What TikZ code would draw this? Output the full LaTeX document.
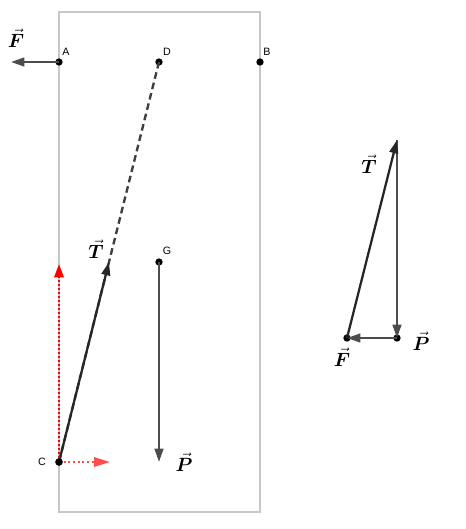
\documentclass[tikz,border=0pt]{standalone}
\usepackage{amsmath}
\usepackage{bm}
\usepackage{fontspec}
\newfontfamily\lab{Liberation Sans}
\usetikzlibrary{arrows.meta}
\tikzset{
  vec/.style={draw=black!70, line width=1.7pt, -{Stealth[length=10pt,width=6.5pt,inset=0pt]}},
  pt/.style={circle, fill=black, inner sep=0pt, minimum size=5.5pt},
  ptlab/.style={font=\lab\fontsize{8}{9}\selectfont, inner sep=0pt},
  vlab/.style={inner sep=0pt, font=\Large},
  frame/.style={draw=black!22, line width=1.8pt},
}
\begin{document}
\begin{tikzpicture}[x=0.75pt,y=-0.75pt]
\useasboundingbox (0,0) rectangle (466,529);
\draw[frame] (59,12) rectangle (260,512);
\node[pt] (A) at (59,62) {};
\node[pt] (D) at (159,62) {};
\node[pt] (B) at (260,62) {};
\node[pt] (C) at (59,462) {};
\node[pt] (G) at (159,262) {};
\coordinate (Fend) at (11,62);
\coordinate (Tend) at (109,262);
\coordinate (Pend) at (159,462);
\coordinate (Vup) at (59,264);
\coordinate (Hr) at (110,462);
\node[ptlab] at (66,52) {A};
\node[ptlab] at (167,52) {D};
\node[ptlab] at (267,52) {B};
\node[ptlab] at (167,251) {G};
\node[ptlab] at (42,462) {C};
% rope
\draw[black!75, line width=1.8pt, dash pattern=on 5pt off 3pt] (D.center) -- (C.center);
% forces
\draw[vec] (A.center) -- (Fend);
\draw[vec, draw=black!85] (C.center) -- (Tend);
\draw[vec] (G.center) -- (Pend);
\draw[red, line width=1.8pt, dash pattern=on 1.5pt off 1.5pt, -{Stealth[length=10pt,width=7pt,inset=0pt]}] (C.center) -- (Vup);
\draw[red!70, line width=1.8pt, dash pattern=on 1.5pt off 2pt, -{Stealth[length=12pt,width=7pt,inset=0pt]}] (C.center) -- (Hr);
\node[pt] at (C) {};
\node[vlab] at (16,38) {$\vec{\bm F}$};
\node[vlab] at (96,249) {$\vec{\bm T}$};
\node[vlab] at (184,462) {$\vec{\bm P}$};
% triangle
\coordinate (Q1) at (397,140);
\node[pt] (Q2) at (397,338) {};
\node[pt] (Q3) at (347,338) {};
\draw[vec] (Q1) -- (Q2.center);
\draw[vec] (Q2.center) -- (Q3.center);
\draw[vec, draw=black!85] (Q3.center) -- (Q1);
\node[vlab] at (369,164) {$\vec{\bm T}$};
\node[vlab] at (421,341) {$\vec{\bm P}$};
\node[vlab] at (342,357) {$\vec{\bm F}$};
\end{tikzpicture}
\end{document}
